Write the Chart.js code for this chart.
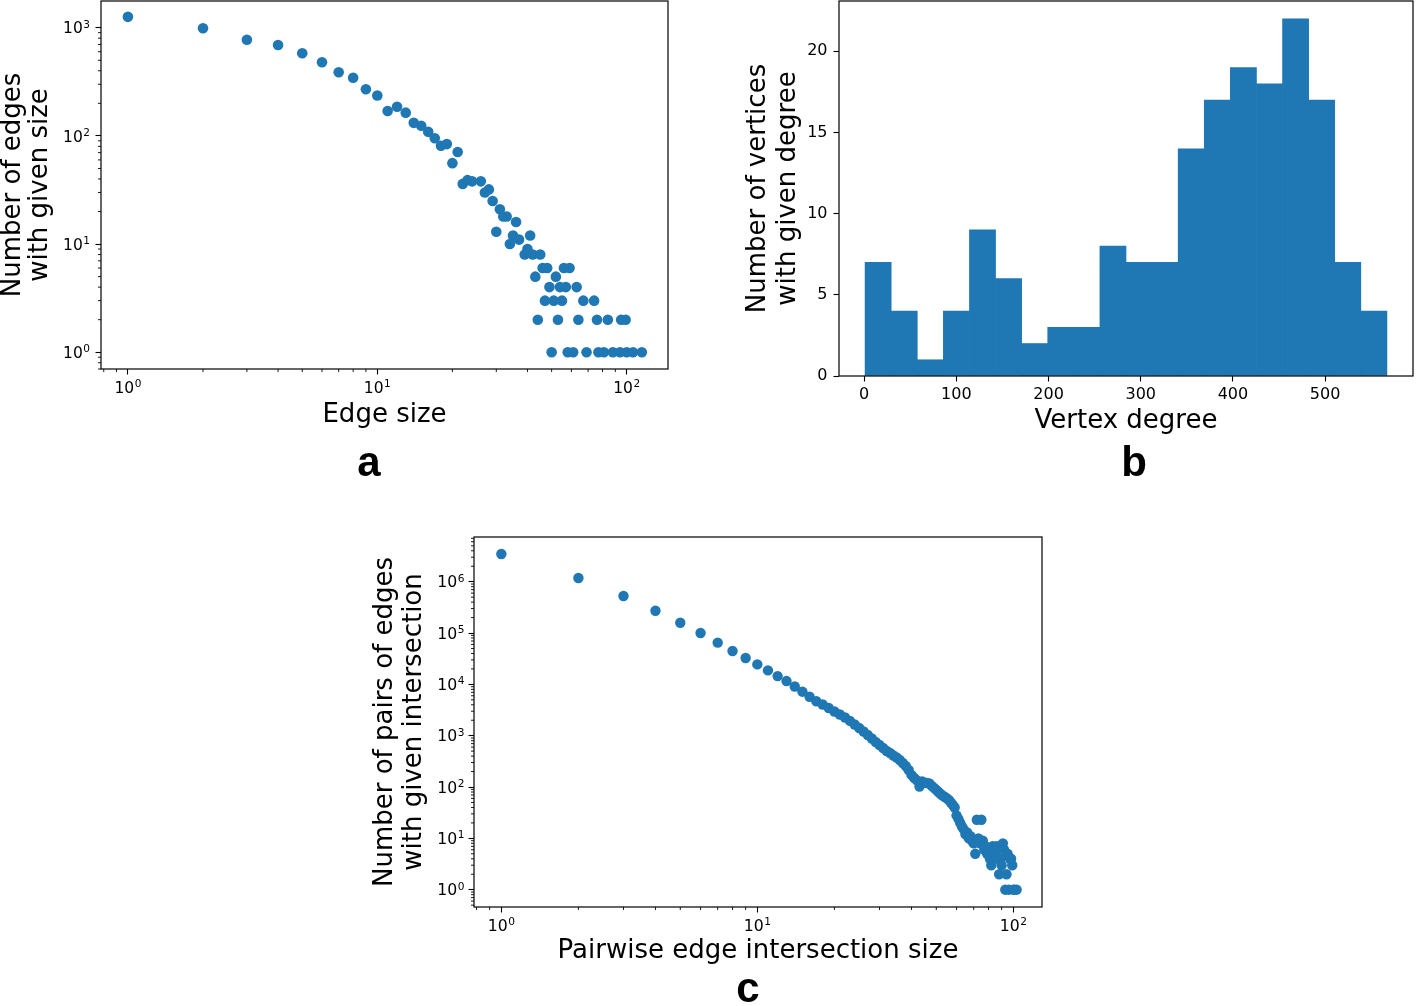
<!DOCTYPE html>
<html>
<head>
<meta charset="utf-8">
<script src="https://cdn.jsdelivr.net/npm/chart.js@4.4.1/dist/chart.umd.min.js"></script>
<style>
  html, body { margin: 0; padding: 0; background: #fff; }
  body { width: 1416px; height: 1006px; position: relative; overflow: hidden; }
  canvas { position: absolute; }
  .panel { position: absolute; font-family: "Liberation Sans", Arial, sans-serif; font-weight: bold;
           font-size: 42px; line-height: 42px; transform: translateX(-50%); color: #000; }
</style>
</head>
<body>
<canvas id="chartA" width="690" height="440" style="left:0px;top:0px"></canvas>
<canvas id="chartB" width="686" height="450" style="left:730px;top:0px"></canvas>
<canvas id="chartC" width="700" height="476" style="left:360px;top:530px"></canvas>
<div class="panel" style="left:369px;top:441px">a</div>
<div class="panel" style="left:1134px;top:441px">b</div>
<div class="panel" style="left:748px;top:967px">c</div>
<script>
// (a) edge size distribution
const edgeSize = [1, 2, 3, 4, 5, 6, 7, 8, 9, 10, 11, 12, 13, 14, 15, 16, 17, 18, 19, 20,
  21, 22, 23, 24, 26, 27, 28, 29, 30, 31, 32, 33, 34, 35, 36, 37, 39, 40, 41, 42,
  43, 44, 45, 46, 47, 48, 49, 50, 51, 52, 53, 54, 55, 56, 57, 58, 59, 61, 63, 64,
  67, 69, 74, 76, 77, 81, 84, 88, 94, 95, 99, 100, 106, 115];
const edgeCount = [1260, 990, 774, 692, 580, 479, 387, 345, 270, 236, 170, 186, 164, 132, 124, 109, 95, 81, 84, 56,
  71, 36, 39, 38, 38, 30, 32, 25, 13, 21, 18, 18, 10, 12, 16, 11, 8, 9, 12, 8,
  5, 2, 8, 6, 3, 6, 4, 1, 3, 5, 2, 4, 3, 6, 4, 1, 6, 1, 4, 2,
  3, 1, 3, 2, 1, 1, 2, 1, 1, 2, 2, 1, 1, 1];

// (b) vertex degree histogram (20 bins)
const degreeCounts = [7, 4, 1, 4, 9, 6, 2, 3, 3, 8, 7, 7, 14, 17, 19, 18, 22, 17, 7, 4];
const degreeMin = 1;
const degreeMax = 567;

// (c) pairwise edge intersection size
const pairSize = [1, 2, 3, 4, 5, 6, 7, 8, 9, 10, 11, 12, 13, 14, 15, 16, 17, 18, 19, 20,
  21, 22, 23, 24, 25, 26, 27, 28, 29, 30, 31, 32, 33, 34, 35, 36, 37, 38, 39, 40,
  41, 42, 43, 44, 45, 46, 47, 48, 49, 50, 51, 52, 53, 54, 55, 56, 57, 58, 59, 60,
  61, 62, 63, 64, 65, 66, 67, 68, 69, 70, 71, 72, 73, 74, 75, 76, 77, 78, 79, 80,
  81, 82, 83, 84, 85, 86, 87, 88, 89, 90, 91, 92, 93, 94, 95, 96, 97, 98, 99, 100,
  101, 103];
const pairCount = [3460000, 1180000, 526000, 272000, 159000, 100000, 65000, 44600, 32600, 24500,
  18700, 14500, 11600, 9100, 7200, 5750, 4700, 4060, 3470, 2960,
  2590, 2260, 1940, 1650, 1410, 1210, 1030, 883, 754, 659,
  576, 504, 460, 412, 376, 336, 294, 257, 215, 172,
  150, 135, 102, 128, 122, 120, 118, 105, 96, 88,
  80, 73, 68, 64, 60, 56, 50, 45, 40, 28,
  24, 20, 17, 15, 12, 13, 10, 11, 9, 8,
  5, 23, 10, 8, 23, 9, 6, 7, 5, 6,
  4, 3, 7, 6, 5, 7, 4, 2, 4, 3,
  8, 6, 1, 2, 5, 1, 4, 4, 3, 1,
  1, 1];

// tick values
const ticksAx = [1, 10, 100];
const ticksAy = [1, 10, 100, 1000];
const ticksBx = [0, 100, 200, 300, 400, 500];
const ticksBy = [0, 5, 10, 15, 20];
const ticksCx = [1, 10, 100];
const ticksCy = [1, 10, 100, 1000, 10000, 100000, 1000000];

const blue = "#1f77b4";
const fontFamily = "'DejaVu Sans', sans-serif";
Chart.defaults.font.family = fontFamily;
Chart.defaults.color = "#000";

// "10" with a raised exponent, like matplotlib's mathtext labels
function drawPow(ctx, v, p, edge, horiz, o) {
    const e = String(Math.round(Math.log10(v)));
    ctx.fillStyle = "#000";
    ctx.textAlign = "left";
    ctx.textBaseline = "alphabetic";
    ctx.font = o.size + "px " + fontFamily;
    const wb = ctx.measureText("10").width;
    ctx.font = o.supSize + "px " + fontFamily;
    const we = ctx.measureText(e).width;
    const w = wb + we + 0.5;
    let x0, base;
    if (horiz) { x0 = p - w / 2; base = edge + o.xDrop; }
    else { x0 = edge - o.yGap - w; base = p + o.size * 0.729 / 2; }
    ctx.font = o.size + "px " + fontFamily;
    ctx.fillText("10", x0, base);
    ctx.font = o.supSize + "px " + fontFamily;
    ctx.fillText(e, x0 + wb + 0.5, base - o.supRaise);
}

// box around the axes, minor ticks and labels on log axes
const frameAndMinor = {
    id: "frameAndMinor",
    afterDraw(chart, args, opts) {
        const { ctx, chartArea: a } = chart;
        ctx.save();
        ctx.strokeStyle = "#000";
        ctx.lineWidth = 1.2;
        ctx.strokeRect(a.left, a.top, a.right - a.left, a.bottom - a.top);
        ctx.lineWidth = 0.9;
        Object.values(chart.scales).forEach(s => {
            if (s.type !== "logarithmic") return;
            const lo = Math.floor(Math.log10(s.min)), hi = Math.ceil(Math.log10(s.max));
            for (let d = lo; d <= hi; d++) {
                for (let k = 2; k <= 9; k++) {
                    const v = k * Math.pow(10, d);
                    if (v < s.min || v > s.max) continue;
                    const p = s.getPixelForValue(v);
                    ctx.beginPath();
                    if (s.isHorizontal()) { ctx.moveTo(p, a.bottom); ctx.lineTo(p, a.bottom + 3); }
                    else { ctx.moveTo(a.left, p); ctx.lineTo(a.left - 3, p); }
                    ctx.stroke();
                }
            }
            s.ticks.forEach(t => {
                const p = s.getPixelForValue(t.value);
                drawPow(ctx, t.value, p, s.isHorizontal() ? a.bottom : a.left, s.isHorizontal(), opts);
            });
        });
        ctx.restore();
    }
};

function axis(o) {
    const horiz = o.horizontal;
    const isLog = o.type === "logarithmic";
    return {
        type: o.type,
        min: o.min,
        max: o.max,
        offset: false,
        position: horiz ? "bottom" : "left",
        grid: { display: true, offset: false, drawOnChartArea: false, drawTicks: true, tickLength: 5.5, tickWidth: 1.1, tickColor: "#000" },
        border: { display: false },
        ticks: {
            autoSkip: false, maxRotation: 0, color: "#000",
            font: { size: o.tickSize || 15 }, padding: o.tickPad || 3,
            callback: isLog ? (() => "") : (v => String(v))
        },
        afterBuildTicks: s => { s.ticks = o.ticks.map(v => ({ value: v })); },
        afterFit: s => {
            if (horiz) s.height = o.size; else s.width = o.size;
            s.paddingTop = 0; s.paddingBottom = 0; s.paddingLeft = 0; s.paddingRight = 0;
        },
        title: {
            display: true, text: o.title, color: "#000",
            font: { size: 26, lineHeight: o.lh },
            padding: horiz ? { top: 0, bottom: o.titlePad } : { top: o.titlePad, bottom: 0 }
        }
    };
}

function common(labelOpts) {
    return {
        responsive: false,
        animation: false,
        devicePixelRatio: 1,
        plugins: { legend: { display: false }, tooltip: { enabled: false }, frameAndMinor: labelOpts }
    };
}

new Chart(document.getElementById("chartA"), {
    type: "scatter",
    data: {
        datasets: [{
            data: edgeSize.map((x, i) => ({ x: x, y: edgeCount[i] })),
            backgroundColor: blue, borderWidth: 0, pointRadius: 5.3, pointHoverRadius: 5.3
        }]
    },
    options: Object.assign(common({ size: 15.5, supSize: 10.5, supRaise: 5.7, xDrop: 23.8, yGap: 11 }), {
        layout: { autoPadding: false, padding: { left: 0, top: 1, right: 22, bottom: 0 } },
        scales: {
            x: axis({ type: "logarithmic", horizontal: true, min: 0.78, max: 146.4, ticks: ticksAx,
                size: 71, title: "Edge size", lh: 1.15, titlePad: 10 }),
            y: axis({ type: "logarithmic", min: 0.701, max: 1766, ticks: ticksAy,
                size: 101, title: ["Number of edges", "with given size"], lh: 1.04, titlePad: 0 })
        }
    }),
    plugins: [frameAndMinor]
});

const binWidth = (degreeMax - degreeMin) / degreeCounts.length;
new Chart(document.getElementById("chartB"), {
    type: "bar",
    data: {
        datasets: [{
            data: degreeCounts.map((c, i) => ({ x: degreeMin + binWidth * (i + 0.5), y: c })),
            backgroundColor: blue, borderWidth: 0, barPercentage: 1, categoryPercentage: 1
        }]
    },
    options: Object.assign(common({}), {
        layout: { autoPadding: false, padding: { left: 0, top: 1, right: 3, bottom: 0 } },
        scales: {
            x: axis({ type: "linear", horizontal: true, min: -27.3, max: 595.3, ticks: ticksBx,
                tickSize: 16, tickPad: 4, size: 74, title: "Vertex degree", lh: 1.15, titlePad: 14 }),
            y: axis({ type: "linear", min: 0, max: 23.1, ticks: ticksBy,
                tickSize: 16, tickPad: 6, size: 109, title: ["Number of vertices", "with given degree"], lh: 1.13, titlePad: 14 })
        }
    }),
    plugins: [frameAndMinor]
});

new Chart(document.getElementById("chartC"), {
    type: "scatter",
    data: {
        datasets: [{
            data: pairSize.map((x, i) => ({ x: x, y: pairCount[i] })),
            backgroundColor: blue, borderWidth: 0, pointRadius: 5.2, pointHoverRadius: 5.2
        }]
    },
    options: Object.assign(common({ size: 15.7, supSize: 10.6, supRaise: 5.8, xDrop: 24, yGap: 9.5 }), {
        layout: { autoPadding: false, padding: { left: 0, top: 7, right: 18, bottom: 0 } },
        scales: {
            x: axis({ type: "logarithmic", horizontal: true, min: 0.782, max: 129.4, ticks: ticksCx,
                size: 99, title: "Pairwise edge intersection size", lh: 1.15, titlePad: 39.5 }),
            y: axis({ type: "logarithmic", min: 0.46, max: 7430000, ticks: ticksCy,
                size: 114, title: ["Number of pairs of edges", "with given intersection"], lh: 1.12, titlePad: 10.5 })
        }
    }),
    plugins: [frameAndMinor]
});
</script>
</body>
</html>
